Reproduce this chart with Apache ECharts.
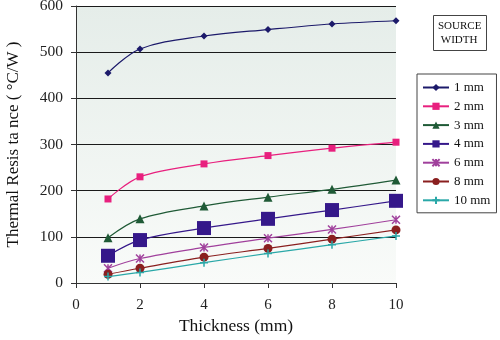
<!DOCTYPE html>
<html><head><meta charset="utf-8">
<script src="https://cdn.jsdelivr.net/npm/echarts@6/dist/echarts.min.js"></script>
<style>html,body{margin:0;padding:0;background:#fff}#c{width:500px;height:340px}</style>
</head><body><div id="c"></div>
<script>
var thickness = [1, 2, 4, 6, 8, 10];
var w1 = [455, 507, 535, 549, 561, 568];
var w2 = [182, 230, 258, 276, 292, 305];
var w3 = [98, 139, 167, 186, 203, 223];
var w4 = [59, 93, 119, 139, 158, 178];
var w6 = [32, 53, 77, 97, 116, 137];
var w8 = [19, 32, 56, 75, 95, 115];
var w10 = [14, 23, 44, 64, 83, 102];
var seriesNames = ['1 mm', '2 mm', '3 mm', '4 mm', '6 mm', '8 mm', '10 mm'];
var yTicks = [0, 100, 200, 300, 400, 500, 600];
var xTicks = [0, 2, 4, 6, 8, 10];

var F = '"Liberation Serif", "DejaVu Serif", serif';
var allData = [w1, w2, w3, w4, w6, w8, w10];
var colors = ['#1c1a6a', '#e8207e', '#1f5a36', '#35188a', '#a0409c', '#8a1f1f', '#2aa8a8'];
var symbols = ['diamond', 'rect', 'triangle', 'rect',
  'path://M0,0L10,10M10,0L0,10M5,0L5,10',
  'circle', 'path://M5,0L5,10M0,5L10,5'];
var sizes = [7, 7, 9, 14, 8, 9, 8];

var series = allData.map(function (arr, i) {
  var isLine = i === 4 || i === 6;
  return {
    name: seriesNames[i], type: 'line', smooth: 0.35,
    data: arr.map(function (v, j) { return [thickness[j], v]; }),
    symbol: symbols[i], symbolSize: sizes[i],
    lineStyle: { color: colors[i], width: 1.2 },
    itemStyle: { color: colors[i], borderColor: colors[i], borderWidth: isLine ? 1.5 : 0 },
    emphasis: { disabled: true }
  };
});

var chart = echarts.init(document.getElementById('c'));
chart.setOption({
  animation: false,
  backgroundColor: '#ffffff',
  grid: {
    left: 76, right: 104, top: 6, bottom: 57, show: true, borderWidth: 0,
    containLabel: false, outerBoundsMode: 'none',
    backgroundColor: new echarts.graphic.LinearGradient(0, 0, 0, 1, [
      { offset: 0, color: '#e5ede9' }, { offset: 1, color: '#f9fbf9' }])
  },
  xAxis: {
    type: 'value', min: 0, max: 10, interval: 2,
    name: 'Thickness (mm)', nameLocation: 'middle', nameGap: 32,
    nameTextStyle: { fontFamily: F, fontSize: 17.5, color: '#111' },
    axisLine: { show: true, onZero: false, lineStyle: { color: '#333', width: 1 } },
    axisTick: { show: true, inside: false, length: 5, lineStyle: { color: '#333' } },
    axisLabel: { fontFamily: F, fontSize: 15, color: '#222', margin: 15,
      formatter: function (v) { return xTicks.indexOf(v) >= 0 ? String(v) : ''; } },
    splitLine: { show: false }
  },
  yAxis: {
    type: 'value', min: 0, max: 600, interval: 100,
    name: 'Thermal Resis ta nce ( \u00B0C/W )', nameLocation: 'middle', nameGap: 54,
    nameTextStyle: { fontFamily: F, fontSize: 17, color: '#111' },
    axisLine: { show: true, lineStyle: { color: '#333', width: 1 } },
    axisTick: { show: true, inside: false, length: 5, lineStyle: { color: '#333' } },
    axisLabel: { fontFamily: F, fontSize: 15.5, color: '#222', margin: 13,
      formatter: function (v) { return yTicks.indexOf(v) >= 0 ? String(v) : ''; } },
    splitLine: { show: true, lineStyle: { color: '#1a1a1a', width: 1 } }
  },
  legend: {
    orient: 'vertical', left: 417, top: 74, width: 80,
    itemWidth: 26, itemHeight: 9, itemGap: 5.8,
    padding: [7, 6, 6, 5], borderRadius: 0,
    borderColor: '#444', borderWidth: 1, backgroundColor: '#fff',
    textStyle: { fontFamily: F, fontSize: 13, color: '#111' },
    data: seriesNames
  },
  graphic: [
    { type: 'rect', left: 433, top: 15, shape: { width: 53, height: 35 },
      style: { fill: '#fff', stroke: '#444', lineWidth: 1 } },
    { type: 'text', left: 438, top: 19,
      style: { text: 'SOURCE\n WIDTH', font: '11px ' + F, fill: '#111', lineHeight: 14 } }
  ],
  series: series
});
</script></body></html>
